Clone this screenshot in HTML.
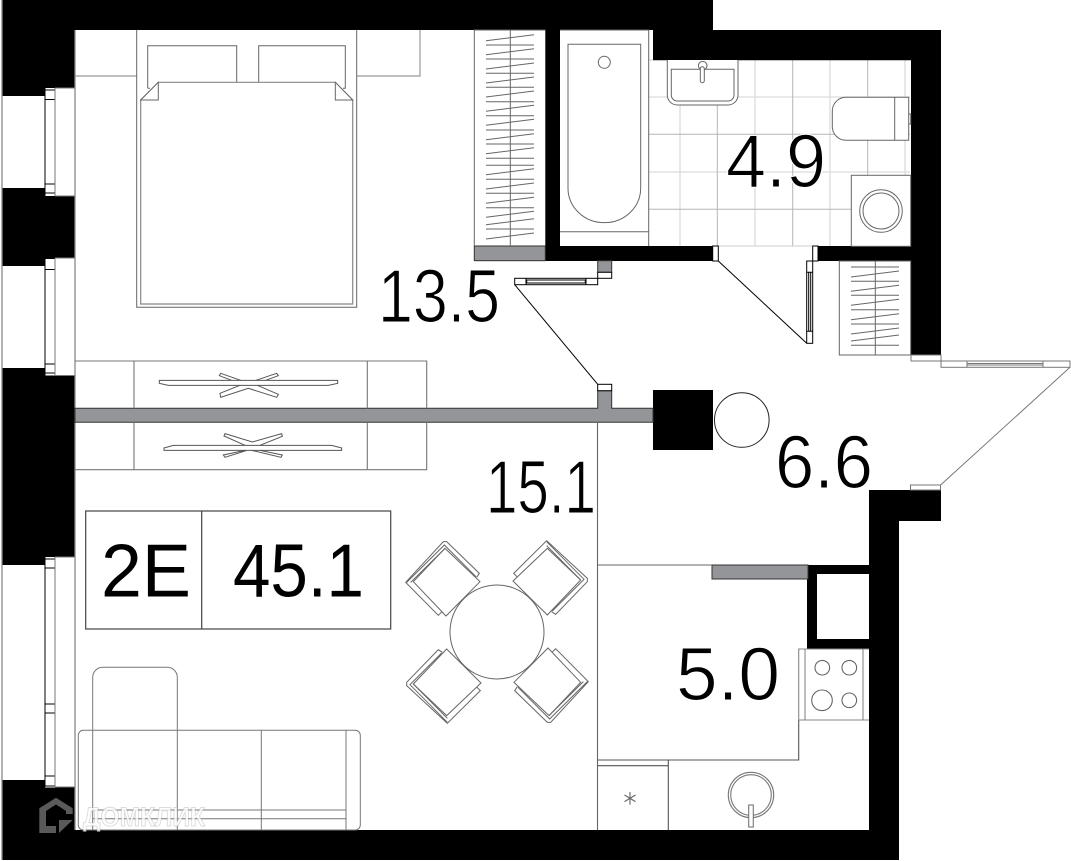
<!DOCTYPE html>
<html><head><meta charset="utf-8"><style>
html,body{margin:0;padding:0;background:#fff}
svg{display:block}
text{font-family:"Liberation Sans",sans-serif;fill:#000}
.r{stroke:#fff;stroke-width:1.1}
</style></head><body>
<svg width="1071" height="861" viewBox="0 0 1071 861" xmlns="http://www.w3.org/2000/svg">
<rect width="1071" height="861" fill="#fff"/>
<!-- tiles -->
<path d="M680 97V246M755 60V246M830 60V246M905 60V246M649 97H910M649 172H910" stroke="#dcdcdc" stroke-width="1.3" fill="none"/>
<path d="M717.3 97V246M792.7 60V246M867.7 60V246M649 134.3H910M649 209.3H910" stroke="#b5b5b5" stroke-width="1" fill="none"/>
<path d="M649 60H653M718 246H812" stroke="#ccc" fill="none"/>
<!-- walls -->
<g fill="#000">
<path d="M2 0H713V30H941V355H911V60.3H653V30H75V88H45V96H2Z"/>
<path d="M2 188H45V196H75V258H45V266H2Z"/>
<path d="M2 368H45V375.5H75V557H45V565H2Z"/>
<path d="M2 780H45V787.5H75V830H869V649H807V565H869V490H941V521H899V860H2ZM817 574V639H869V574Z" fill-rule="evenodd"/>
<rect x="653" y="390" width="60" height="60"/>
<rect x="545.3" y="30" width="14.7" height="231"/>
<rect x="545.3" y="246" width="167.7" height="15"/>
<rect x="818" y="246" width="93" height="15"/>
</g>
<path d="M2 0V860M75 30V830" stroke="#888" stroke-width="1.3" fill="none"/>
<!-- gray walls -->
<g fill="#939598" stroke="#333" stroke-width="1">
<rect x="474.3" y="246" width="71" height="14.7"/>
<path d="M75 408.3H597.7V390.7H611.7V408.3H653V422.3H75Z"/>
<rect x="597.7" y="260.7" width="14" height="11.6"/>
<rect x="712" y="565" width="96" height="14"/>
</g>
<!-- windows -->
<g fill="none" stroke="#000" stroke-width="1">
<path d="M45 88V196M45 258V376M45 557V787"/>
<path d="M45 90H55M45 99.5H55M45 184H55M45 193H55M45 258.5H55M45 269.5H55M45 364H55M45 373H55M45 559H55M45 568H55M45 704H55M45 713H55M45 776H55M45 786H55"/>
<path d="M55 88V196M55 258V376M55 557V787M55 88H75M55 196H75M55 258H75M55 375.5H75M55 557H75M55 787H75" stroke="#777"/>
</g>
<!-- bed and shelves -->
<g fill="none" stroke="#666" stroke-width="1">
<path d="M75 76H136.7M356.7 76H420V30" stroke="#999" stroke-width="1.2"/>
<path d="M136.7 30V307.3H356.7V30"/>
<path d="M147.7 82.3V45.7H236.7V82.3M258.7 82.3V45.7H345.3V88.3H343M147.7 88.3V82.3M147.7 88.3H150"/>
<path d="M140.7 100V304H352.7V100L335.3 82.3H158.3Z" stroke="#888" stroke-width="1.2"/>
<path d="M140.7 100L158.3 82.3V100ZM335.3 82.3L352.7 100H335.3Z" fill="#fff"/>
</g>
<!-- wardrobes -->
<g fill="none" stroke="#777" stroke-width="1.1">
<path d="M75.3 361H426.7V408.3M75.3 469.7H426.7V422.3M134 361V408.3M367.3 361V408.3M134 422.3V469.7M367.3 422.3V469.7"/>
<g transform="translate(0 340) scale(.33333)" stroke="#555" stroke-width="3">
<path d="M478 121H1013V130L985 136H505L478 130Z"/>
<path d="M722 121L662 100L658 107L695 121M768 121L830 100L835 107L797 121M720 136L660 160L662 172L745 145L830 172L835 163L772 136"/>
<path d="M492 324L520 316H995L1025 324V331H492Z"/>
<path d="M735 316L672 288L675 281L757 306L845 281L847 289L780 316M735 331L670 345L675 352L738 332M780 331L847 345L843 352L755 331"/>
</g>
</g>
<!-- closets -->
<g fill="none" stroke="#666" stroke-width="1">
<path d="M474.3 246V30H545.3M510.3 30V246M839.3 261H910.7V355H839.3ZM875.3 261V355"/>
<path d="M486 40.7L534 34.7M486 54.7L534 48.7M486 69L534 63M486 83L534 77M486 97L534 91M486 111.3L534 105.3M486 125.3L534 119.3M486 139.7L534 133.7M486 153.7L534 147.7M486 174.7L534 168.7M486 189L534 183M486 203.3L534 197.3M486 217.3L534 211.3M486 224.7L534 218.7M486 239L534 233"/>
<path d="M486 45H534M486 59H534M486 73.3H534M486 87.3H534M486 101.7H534M486 115.7H534M486 130H534M486 144H534M486 158.3H534M486 165.3H534M486 179.3H534M486 193.3H534M486 207.7H534M486 229H534"/>
<path d="M851 277L899 271M851 291.3L899 285.3M851 305.3L899 299.3M851 319.7L899 313.7M851 334L899 328M851 341L899 335M851 267H899M851 281.3H899M851 295.3H899M851 309.7H899M851 324H899M851 345.3H899"/>
</g>
<!-- bath -->
<g fill="none" stroke="#666" stroke-width="1">
<path d="M560 30H648.7V246M560 231.7H648.7"/>
<path d="M568 188.3V44.3H640.7V188.3A36.35 34.4 0 0 1 568 188.3Z"/>
<circle cx="604.3" cy="62.3" r="6"/>
<path d="M667.3 60V95A10 10 0 0 0 677.3 105H728A10 10 0 0 0 738 95V60" fill="#fff"/>
<path d="M671.3 69.3H734V95A6 6 0 0 1 728 101H677.3A6 6 0 0 1 671.3 95Z"/>
<circle cx="702.7" cy="65.7" r="4.3" fill="#fff"/>
<rect x="700.3" y="66.7" width="4" height="16" rx="2" fill="#fff"/>
<path d="M908.7 97.3H846A13.7 13.7 0 0 0 832.3 111V126.6A13.7 13.7 0 0 0 846 140.3H908.7ZM894.7 97.3V140.3M908.7 114H910.7V124H908.7" fill="#fff"/>
<rect x="851.3" y="175.3" width="59.4" height="71" fill="#fff"/>
<circle cx="881" cy="211" r="21.3"/>
<circle cx="881" cy="211" r="18"/>
</g>
<!-- doors -->
<g fill="#fff" stroke="#000" stroke-width="1">
<rect x="712.7" y="246" width="5.6" height="15"/>
<rect x="812.7" y="246" width="5.3" height="15"/>
<rect x="806.7" y="261" width="6" height="82.3"/>
<path d="M806.7 272.3H812.7M806.7 331.3H812.7M808.7 272.3V331.3M810.7 272.3V331.3" fill="none"/>
<path d="M718.3 261L806.7 343.3" fill="none"/>
<rect x="597.7" y="272.3" width="14" height="6"/>
<rect x="514.7" y="278.3" width="83" height="6.4"/>
<rect x="526.7" y="280" width="58.6" height="3"/>
<path d="M526 278.3V284.7M586 278.3V284.7" fill="none"/>
<path d="M514.7 284.7L597.7 384.3" fill="none"/>
<rect x="597.7" y="384.3" width="14" height="6.4"/>
</g>
<!-- balcony -->
<g fill="#fff" stroke="#777" stroke-width="1">
<rect x="911" y="355" width="30" height="6"/>
<rect x="941" y="361" width="129" height="6.3"/>
<path d="M967 361V367.3M1043 361V367.3M967 363.5H1043M967 365H1043" fill="none"/>
<path d="M1070 367.3L940.6 485" fill="none"/>
<rect x="910.5" y="485" width="30" height="5"/>
</g>
<circle cx="741.8" cy="420" r="27.3" fill="#fff" stroke="#222" stroke-width="1"/>
<!-- partitions / kitchen -->
<g fill="none" stroke="#666" stroke-width="1.1">
<path d="M597.5 422V830M597.5 565H712"/>
<path d="M798.7 720V760H597.5M668.3 760V830M597.5 765.7H668.3" stroke="#555"/>
<path d="M798.7 720V649H869M798.7 720H869M805 649V720M863 649V720" stroke="#888"/>
<circle cx="822.3" cy="667.7" r="7.3"/><circle cx="849.3" cy="667.7" r="7.3"/>
<circle cx="822" cy="700.3" r="10.3"/><circle cx="849.3" cy="700.3" r="7.3"/>
<path d="M630 792V804.6M624.5 795L635.5 801.6M635.5 795L624.5 801.6"/>
<circle cx="751" cy="795" r="22.7" stroke="#777"/><circle cx="751" cy="795" r="20.3" stroke="#777"/>
<rect x="748.7" y="805" width="4.6" height="22" fill="#fff" stroke="#777"/>
</g>
<!-- legend -->
<g fill="none" stroke="#444" stroke-width="1.2">
<rect x="85.7" y="511" width="305" height="118"/>
<path d="M201.7 511V629"/>
</g>
<!-- table & chairs -->
<g fill="none" stroke="#666" stroke-width="3" transform="translate(390 530) scale(.33333)">
<g id="ch"><path d="M165 55L270 155L168 258L70 155Z"/><path d="M155 246L145 256L47 157L160 35L170 35L268 130L260 142M50 157L163 45L258 140M62 157L165 55"/></g>
<use href="#ch" transform="rotate(90 321 306)"/>
<use href="#ch" transform="rotate(180 321 306)"/>
<use href="#ch" transform="rotate(270 321 306)"/>
<circle cx="321" cy="306" r="141" fill="#fff"/>
</g>
<!-- sofa -->
<g fill="none" stroke="#777" stroke-width="1">
<path d="M92.7 830V677.3A10 10 0 0 1 102.7 667.3H167.3A10 10 0 0 1 177.3 677.3V830"/>
<path d="M78.3 735.3A5 5 0 0 1 83.3 730.3H355.3A5 5 0 0 1 360.3 735.3V825A5 5 0 0 1 355.3 830H83.3A5 5 0 0 1 78.3 825Z"/>
<path d="M261.3 730.3V830M346 730.3V830M92.7 810H346M92.7 818.7H346"/>
</g>
<!-- labels -->
<text class="r" x="378" y="322" font-size="75" textLength="122" lengthAdjust="spacingAndGlyphs">13.5</text>
<text class="r" x="726" y="187" font-size="75" textLength="100" lengthAdjust="spacingAndGlyphs">4.9</text>
<text class="r" x="775" y="488" font-size="75" textLength="98" lengthAdjust="spacingAndGlyphs">6.6</text>
<text class="r" x="486" y="513" font-size="75" textLength="110" lengthAdjust="spacingAndGlyphs">15.1</text>
<text class="r" x="676" y="700" font-size="75" textLength="104" lengthAdjust="spacingAndGlyphs">5.0</text>
<text x="101" y="596.5" font-size="75" textLength="90" lengthAdjust="spacingAndGlyphs">2E</text>
<text x="233" y="596.5" font-size="75" textLength="131" lengthAdjust="spacingAndGlyphs">45.1</text>
<!-- watermark -->
<path d="M39.3 808.3L56 797.7L72.7 808.3V814H66V811L56 804.5L46 811V826H56V833H39.3ZM59 820H72.7L59 833Z" fill="#5a5a5a"/>
<text x="83" y="826" font-size="27" font-weight="700" textLength="122" lengthAdjust="spacingAndGlyphs" style="fill:#fff;fill-opacity:.8;stroke:#888;stroke-opacity:.3;stroke-width:1">ДОМКЛИК</text>
</svg>
</body></html>
